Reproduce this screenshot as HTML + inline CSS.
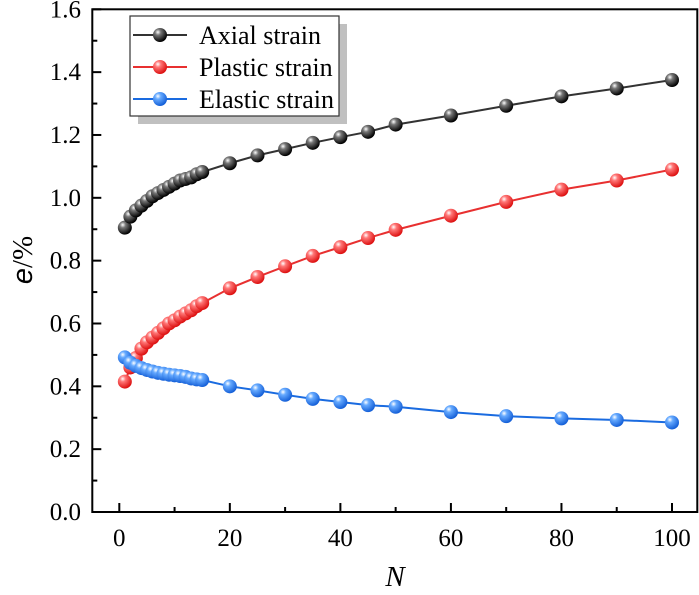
<!DOCTYPE html>
<html><head><meta charset="utf-8"><style>
body{margin:0;background:#fff}
svg text{font-family:"Liberation Serif",serif;fill:#000}
</style></head><body>
<svg id="chart" width="699" height="590" viewBox="0 0 699 590" xmlns="http://www.w3.org/2000/svg">
<defs>
<radialGradient id="gk" cx="0.35" cy="0.3" r="0.7"><stop offset="0" stop-color="#fff"/><stop offset="0.3" stop-color="#777"/><stop offset="1" stop-color="#000"/></radialGradient>
<radialGradient id="gr" cx="0.35" cy="0.3" r="0.7"><stop offset="0" stop-color="#fff"/><stop offset="0.3" stop-color="#f77"/><stop offset="1" stop-color="#d11"/></radialGradient>
<radialGradient id="gb" cx="0.35" cy="0.3" r="0.7"><stop offset="0" stop-color="#fff"/><stop offset="0.3" stop-color="#6af"/><stop offset="1" stop-color="#1560d8"/></radialGradient>
</defs>
<g id="plot"></g>
<g id="axes"></g>
</svg>
<script>
const cycles=[1,2,3,4,5,6,7,8,9,10,11,12,13,14,15,20,25,30,35,40,45,50,60,70,80,90,100];
const axialStrain=[0.905,0.94,0.96,0.975,0.99,1.005,1.015,1.025,1.035,1.045,1.055,1.06,1.065,1.075,1.082,1.11,1.135,1.155,1.175,1.193,1.21,1.233,1.262,1.293,1.323,1.348,1.375];
const plasticStrain=[0.415,0.46,0.49,0.52,0.54,0.555,0.57,0.585,0.6,0.61,0.622,0.632,0.642,0.655,0.665,0.712,0.748,0.782,0.815,0.843,0.872,0.898,0.943,0.987,1.026,1.055,1.09];
const elasticStrain=[0.492,0.475,0.465,0.458,0.452,0.447,0.443,0.44,0.437,0.435,0.433,0.43,0.425,0.422,0.42,0.4,0.387,0.373,0.36,0.35,0.34,0.335,0.318,0.305,0.298,0.293,0.285];
const xTicks=[0,20,40,60,80,100];
const yTicks=["0.0","0.2","0.4","0.6","0.8","1.0","1.2","1.4","1.6"];
const seriesNames=["Axial strain","Plastic strain","Elastic strain"];

const NS="http://www.w3.org/2000/svg";
const L=92.3,R=697.3,T=9.3,B=512;
const x=v=>119.3+v*5.527;
const y=v=>B-(v/1.6)*(B-T);
function mk(tag,at,parent){const e=document.createElementNS(NS,tag);for(const k in at)e.setAttribute(k,at[k]);parent.appendChild(e);return e;}
const plot=document.getElementById('plot'),axes=document.getElementById('axes');
const series=[[axialStrain,'#333','url(#gk)','axial'],[plasticStrain,'#e83030','url(#gr)','plastic'],[elasticStrain,'#1a6be0','url(#gb)','elastic']];
series.forEach(([vals,col,fill,nm])=>{
  const g=mk('g',{},plot);
  
  
  const pl=mk('polyline',{points:cycles.map((c,i)=>x(c)+','+y(vals[i])).join(' '),fill:'none',stroke:col,'stroke-width':2},g);
  
  
  cycles.forEach((c,i)=>{
    const p=mk('circle',{cx:x(c),cy:y(vals[i]),r:7,fill:fill},g);
    
    
  });
});
const fr=mk('rect',{x:L,y:T,width:R-L,height:B-T,fill:'none',stroke:'#000','stroke-width':2},axes);


for(let v=0;v<=100;v+=10){
  const t=mk('line',{x1:x(v),x2:x(v),y1:B,y2:B-(v%20===0?9:5),stroke:'#000','stroke-width':2},axes);
  
  
}
xTicks.forEach(v=>{
  const t=mk('text',{x:x(v),y:546,'text-anchor':'middle','font-size':25},axes);t.textContent=v;
  
  
});
for(let i=0;i<=16;i++){
  const v=i*0.1;
  const t=mk('line',{x1:L,x2:L+(i%2===0?9:5),y1:y(v),y2:y(v),stroke:'#000','stroke-width':2},axes);
  
  
}
yTicks.forEach(s=>{
  const t=mk('text',{x:81,y:y(parseFloat(s))+8,'text-anchor':'end','font-size':25},axes);t.textContent=s;
  
  
});
const xt=mk('text',{x:395,y:586,'text-anchor':'middle','font-size':29,'font-style':'italic'},axes);xt.textContent='N';


const yt=mk('text',{transform:'translate(32,260) rotate(-90)','text-anchor':'middle','font-size':29},axes);
yt.innerHTML='<tspan font-style="italic" font-family="Liberation Sans, sans-serif">e</tspan>/%';


const lg=mk('g',{},axes);


mk('rect',{x:138,y:24,width:209,height:100,fill:'#c0c0c0'},lg);
mk('rect',{x:130,y:16,width:209,height:100,fill:'#fff',stroke:'#333','stroke-width':1.2},lg);
series.forEach(([v,col,fill,nm],i)=>{
  const cy=35+i*32;
  const e=mk('g',{},lg);
  
  
  mk('line',{x1:133,x2:187,y1:cy,y2:cy,stroke:col,'stroke-width':2},e);
  mk('circle',{cx:160,cy:cy,r:7,fill:fill},e);
  const t=mk('text',{x:199,y:cy+9,'font-size':26},e);t.textContent=seriesNames[i];
});
</script>
</body></html>
